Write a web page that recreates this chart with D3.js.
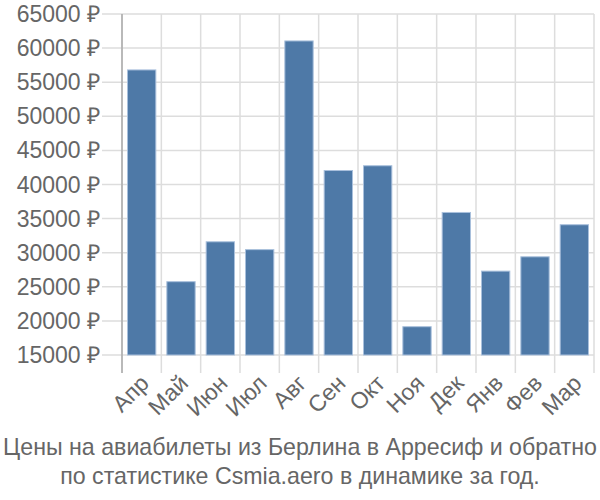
<!DOCTYPE html>
<html><head><meta charset="utf-8">
<script src="https://cdn.jsdelivr.net/npm/d3@7"></script>
<style>body{margin:0;background:#fff;} text{font-family:"Liberation Sans",Arial,sans-serif;}</style>
</head><body>
<svg id="c" width="600" height="500"></svg>
<script>
const months = ["Апр","Май","Июн","Июл","Авг","Сен","Окт","Ноя","Дек","Янв","Фев","Мар"];
const prices = [56800, 25750, 31600, 30450, 61050, 42050, 42750, 19150, 35900, 27300, 29400, 34100];
const yTicks = [15000,20000,25000,30000,35000,40000,45000,50000,55000,60000,65000];
const titleLines = ["Цены на авиабилеты из Берлина в Арресиф и обратно","по статистике Csmia.aero в динамике за год."];

const svg = d3.select("#c");
const L = 122, R = 594, T = 14, B = 355;
const x = d3.scaleBand().domain(months).range([L, R]).paddingInner(0.28).paddingOuter(0.14);
const y = d3.scaleLinear().domain([15000, 65000]).range([B, T]);
const step = x.step();
const grid = "#dddddd", txt = "#666666";
const fs = 23;

svg.append("g").selectAll("line").data(yTicks).join("line")
  .attr("x1", L - 20).attr("x2", R).attr("y1", d => y(d)).attr("y2", d => y(d))
  .attr("stroke", grid).attr("stroke-width", 1.5);
const vx = d3.range(months.length + 1).map(i => L + i * step);
svg.append("g").selectAll("line").data(vx).join("line")
  .attr("x1", d => d).attr("x2", d => d).attr("y1", T).attr("y2", B + 18)
  .attr("stroke", grid).attr("stroke-width", 1.5);
svg.append("line").attr("x1", L).attr("x2", L).attr("y1", T).attr("y2", B + 18)
  .attr("stroke", "#aaaaaa").attr("stroke-width", 1.5);

svg.append("g").selectAll("rect").data(prices).join("rect")
  .attr("x", (d, i) => x(months[i])).attr("width", x.bandwidth())
  .attr("y", d => y(d)).attr("height", d => B - y(d))
  .attr("fill", "#4e79a7").attr("stroke", "#a9c0dc").attr("stroke-width", 1);

svg.append("g").selectAll("text").data(yTicks).join("text")
  .attr("x", L - 22).attr("y", d => y(d)).attr("dy", "0.35em")
  .attr("text-anchor", "end").attr("fill", txt).attr("font-size", fs)
  .text(d => d + " ₽");

svg.append("g").selectAll("text").data(months).join("text")
  .attr("transform", d => `translate(${x(d) + x.bandwidth() / 2 + 3},${B + 24}) rotate(-45)`)
  .attr("text-anchor", "end").attr("dy", "0.35em").attr("fill", txt).attr("font-size", fs)
  .text(d => d);

svg.append("g").selectAll("text").data(titleLines).join("text")
  .attr("x", 300).attr("y", (d, i) => 455 + i * 29)
  .attr("text-anchor", "middle").attr("fill", txt).attr("font-size", 23.2)
  .text(d => d);
</script>
</body></html>
